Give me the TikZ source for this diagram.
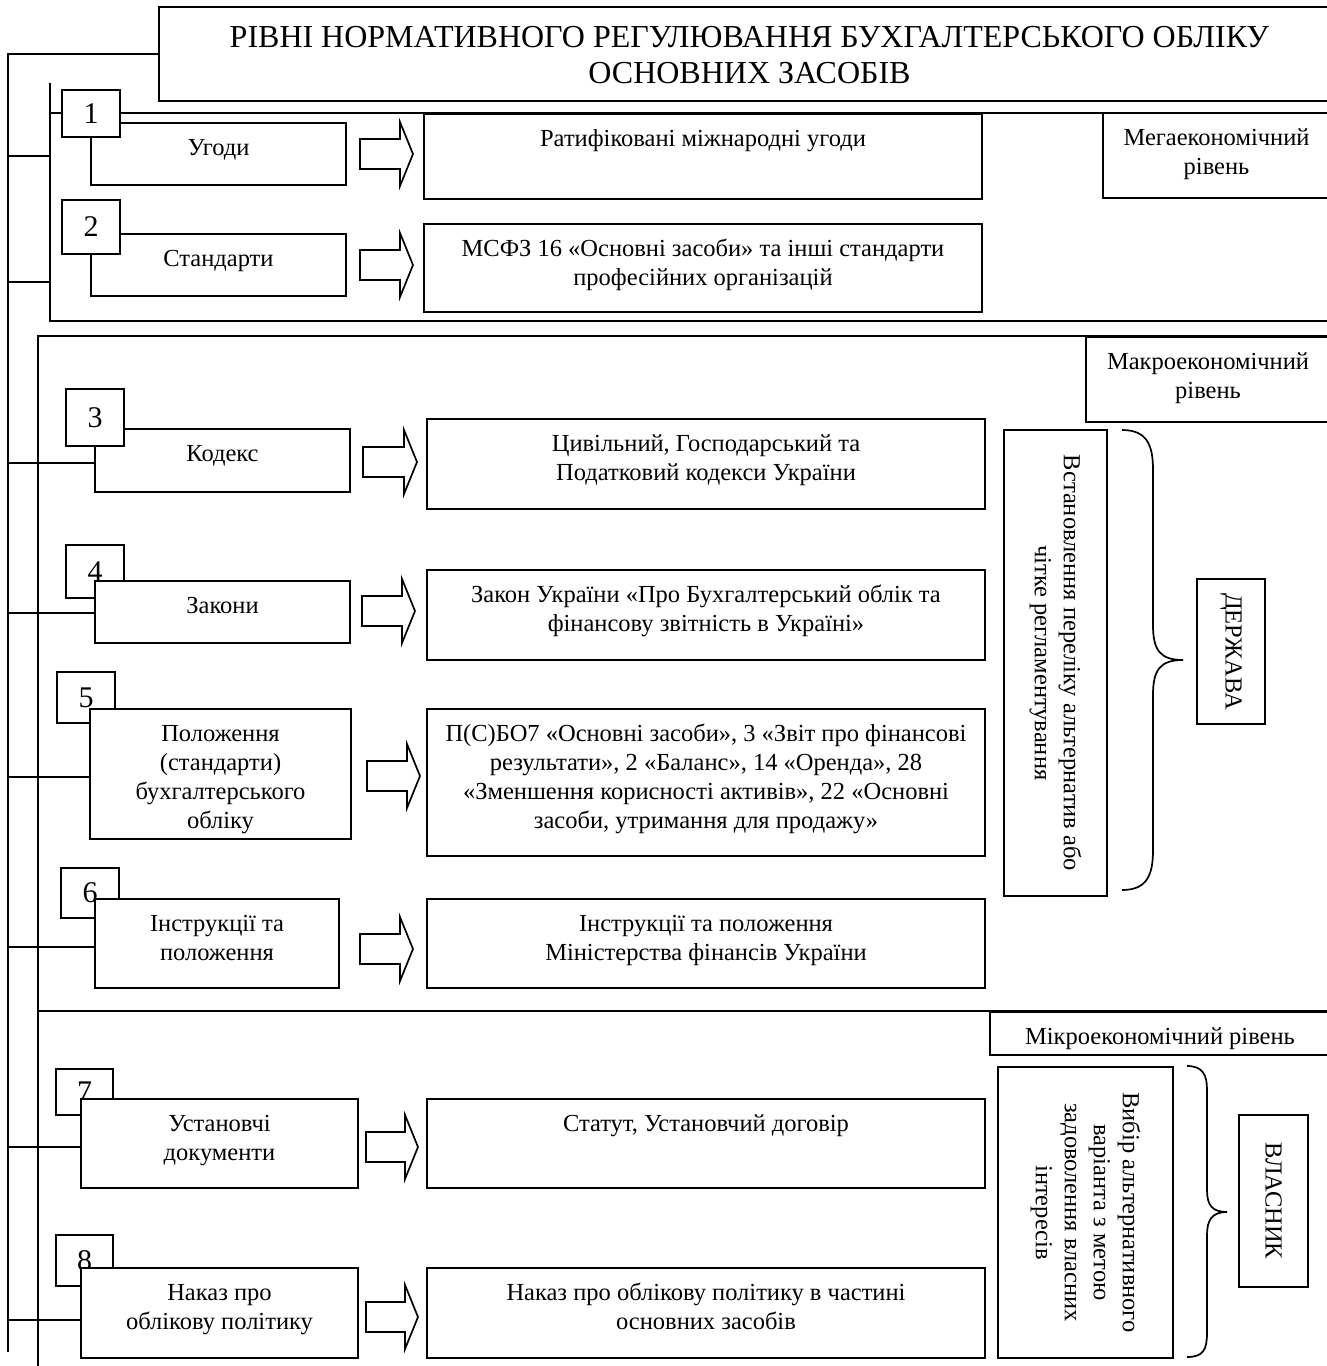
\documentclass[tikz,border=0pt]{standalone}
\usepackage{fontspec}
\setmainfont{Liberation Serif}
\newfontfamily\ttlfam{Liberation Serif}
\usetikzlibrary{calc}
\newcommand\bodyfont{\fontsize{24.5}{29}\selectfont}
\newcommand\mytitlefont{\ttlfam\fontsize{32}{36}\selectfont}
\tikzset{
  ln/.style={line width=1.7pt},
  bx/.style={draw, line width=1.7pt, fill=white, inner sep=0pt, outer sep=0pt, anchor=north west},
  frame/.style={draw, line width=1.7pt, inner sep=0pt, outer sep=0pt, anchor=north west},
  numbox/.style={draw, line width=1.7pt, fill=white, inner sep=0pt, outer sep=0pt, anchor=north west, font=\fontsize{30}{30}\selectfont},
  rotbox/.style={draw, line width=1.7pt, fill=white, inner sep=0pt, outer sep=0pt, rotate=-90},
  blockarrow/.style={draw, line width=1.7pt, fill=white, line join=miter},
}
% text box: name, x1, y1, x2, y2, text (top anchored)
\newcommand\tb[6]{\node[bx] (#1) at (#2,#3) {\parbox[t][\dimexpr #5pt-#3pt\relax][t]{\dimexpr #4pt-#2pt\relax}{\centering\bodyfont\vspace*{12pt}\strut #6\par}};}
% number box: name, x1, y1, x2, y2, digit
\newcommand\nb[6]{\node[numbox, minimum width=\dimexpr #4pt-#2pt\relax, minimum height=\dimexpr #5pt-#3pt\relax] (#1) at (#2,#3) {\raisebox{-4pt}{#6}};}
% block arrow: x0, tip x, centre y
\newcommand\barr[3]{\draw[blockarrow] (#1,#3-15) -- (#2-13,#3-15) -- (#2-13,#3-32) -- (#2,#3) -- (#2-13,#3+32) -- (#2-13,#3+15) -- (#1,#3+15) -- cycle;}
% connector from the bus to a box: box name, downward offset
\newcommand\conn[2]{\draw[ln] ([yshift=-#2pt]#1.west -| busB) -- ([yshift=-#2pt]#1.west);}
\begin{document}
\begin{tikzpicture}[x=1pt,y=-1pt]
\useasboundingbox (0,0) rectangle (1326,1366);
% section frames
\node[frame, minimum width=1300pt, minimum height=208pt] (mega) at (50,113) {};
\node[frame, minimum width=1310pt, minimum height=675pt] (macro) at (38,336) {};
\coordinate (megaT) at (50,83);
\coordinate (microB) at (38,1370);
\draw[ln] (mega.north west) -- (megaT);
\draw[ln] (macro.south west) -- (microB);
% title
\node[bx] (title) at (159,7) {\parbox[t][94pt][t]{1181pt}{\centering\mytitlefont\vspace*{15pt}\strut РІВНІ НОРМАТИВНОГО РЕГУЛЮВАННЯ БУХГАЛТЕРСЬКОГО ОБЛІКУ\\ ОСНОВНИХ ЗАСОБІВ\par}};
\coordinate (busB) at (8,1352);
\draw[ln] (title.west) -| (busB);

% level labels
\tb{megal}{1103}{113}{1330}{198}{Мегаекономічний\\ рівень}
\tb{macrol}{1086}{337}{1330}{422}{Макроекономічний\\ рівень}
\tb{microl}{990}{1012}{1330}{1055}{Мікроекономічний рівень}

% mega level
\tb{ug}{91}{123}{346}{185}{Угоди}
\nb{n1}{62}{90}{120}{137}{1}
\tb{st}{91}{234}{346}{296}{Стандарти}
\nb{n2}{62}{200}{120}{254}{2}
\draw[ln] ([yshift=-2pt]ug.west -| busB) -- ([yshift=-2pt]ug.west -| mega.west);
\draw[ln] ([yshift=-17pt]st.west -| busB) -- ([yshift=-17pt]st.west -| mega.west);
\barr{360}{413}{154}
\barr{360}{413}{265}
\tb{r1}{424}{114}{982}{199}{Ратифіковані міжнародні угоди}
\tb{r2}{424}{224}{982}{312}{МСФЗ 16 «Основні засоби» та інші стандарти\\ професійних організацій}

% macro level
\tb{kod}{95}{429}{350}{492}{Кодекс}
\nb{n3}{66}{389}{124}{446}{3}
\nb{n4}{66}{545}{124}{598}{4}
\tb{zak}{95}{581}{350}{643}{Закони}
\nb{n5}{57}{672}{115}{723}{5}
\tb{pol}{90}{709}{351}{839}{Положення\\ (стандарти)\\ бухгалтерського\\ обліку}
\nb{n6}{61}{868}{119}{918}{6}
\tb{ins}{95}{899}{339}{988}{Інструкції та\\ положення}
\conn{kod}{2.5}
\conn{zak}{1}
\conn{pol}{3}
\conn{ins}{3.5}
\barr{363}{417}{462}
\barr{362}{415}{611}
\barr{367}{420}{776}
\barr{360}{413}{949}
\tb{r3}{427}{419}{985}{509}{Цивільний, Господарський та\\ Податковий кодекси України}
\tb{r4}{427}{570}{985}{660}{Закон України «Про Бухгалтерський облік та\\ фінансову звітність в Україні»}
\tb{r5}{427}{709}{985}{856}{П(С)БО7 «Основні засоби», 3 «Звіт про фінансові\\ результати», 2 «Баланс», 14 «Оренда», 28\\ «Зменшення корисності активів», 22 «Основні\\ засоби, утримання для продажу»}
\tb{r6}{427}{899}{985}{988}{Інструкції та положення\\ Міністерства фінансів України}

\node[rotbox] (vst) at (1055.5,663) {\parbox[c][103pt][c]{466pt}{\centering\bodyfont Встановлення переліку альтернатив або\\ чітке регламентування\par}};
\draw[ln] (1122,430) .. controls (1147,430) and (1153,445) .. (1153,470) -- (1153,625) .. controls (1153,650) and (1160,660) .. (1183,660) .. controls (1160,660) and (1153,670) .. (1153,695) -- (1153,850) .. controls (1153,875) and (1147,890) .. (1122,890);
\node[rotbox] (derzh) at (1231,651.5) {\parbox[c][68pt][c]{145pt}{\centering\bodyfont ДЕРЖАВА\par}};

% micro level
\nb{n7}{56}{1069}{113}{1115}{7}
\tb{ust}{81}{1099}{358}{1188}{Установчі\\ документи}
\nb{n8}{56}{1235}{113}{1286}{8}
\tb{nak}{81}{1268}{358}{1358}{Наказ про\\ облікову політику}
\conn{ust}{3.5}
\conn{nak}{7}
\barr{366}{418}{1147}
\barr{366}{418}{1317}
\tb{r7}{427}{1099}{985}{1188}{Статут, Установчий договір}
\tb{r8}{427}{1268}{985}{1358}{Наказ про облікову політику в частині\\ основних засобів}

\node[rotbox] (vyb) at (1085.5,1212.5) {\parbox[c][175pt][c]{291pt}{\centering\bodyfont Вибір альтернативного\\ варіанта з метою\\ задоволення власних\\ інтересів\par}};
\draw[ln] (1187,1066) .. controls (1203,1066) and (1207,1075) .. (1207,1090) -- (1207,1190) .. controls (1207,1205) and (1212,1212) .. (1227,1212) .. controls (1212,1212) and (1207,1220) .. (1207,1235) -- (1207,1333) .. controls (1207,1350) and (1203,1357) .. (1187,1357);
\node[rotbox] (vlas) at (1273.5,1201) {\parbox[c][69pt][c]{172pt}{\centering\bodyfont ВЛАСНИК\par}};
\end{tikzpicture}
\end{document}
